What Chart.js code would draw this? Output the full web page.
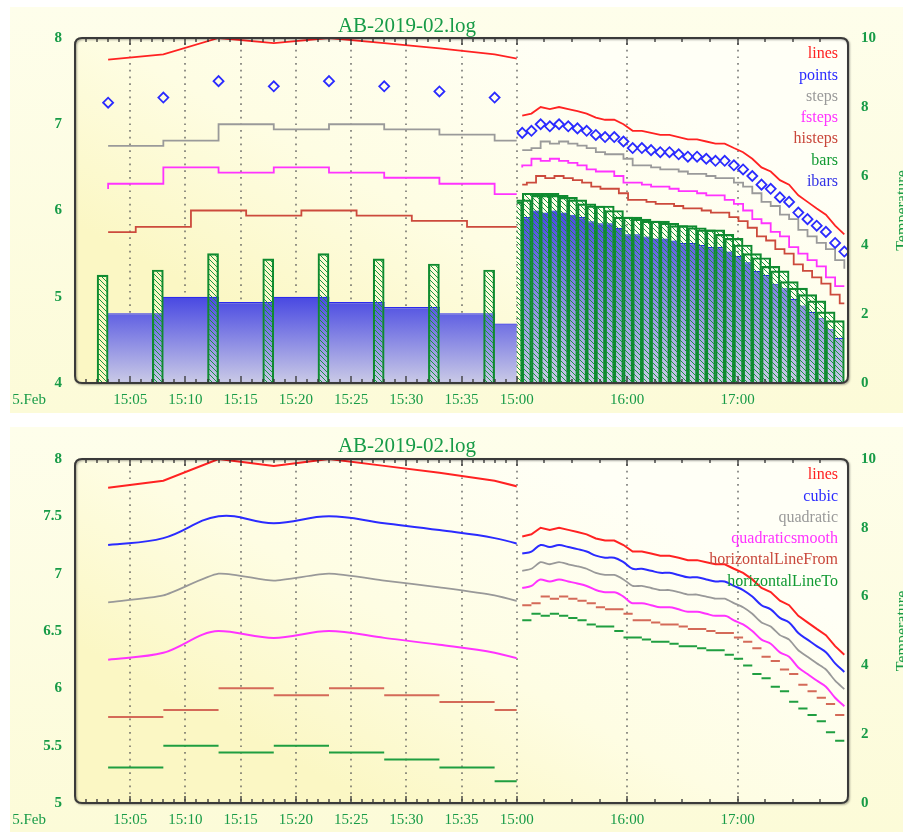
<!DOCTYPE html>
<html>
<head>
<meta charset="utf-8">
<title>AB-2019-02.log</title>
<script src="https://cdn.jsdelivr.net/npm/chart.js@4.4.1/dist/chart.umd.min.js"></script>
<style>
  html, body { margin: 0; padding: 0; background: #ffffff; }
  canvas { display: block; }
</style>
</head>
<body>
<canvas id="topChart" width="903" height="416"></canvas>
<canvas id="bottomChart" width="903" height="416"></canvas>
<script>
// log readings, one every 5 minutes
const times = ['15:03', '15:08', '15:13', '15:18', '15:23', '15:28', '15:33', '15:38',
               '15:43', '15:48', '15:53', '15:58', '16:03', '16:08', '16:13', '16:18',
               '16:23', '16:28', '16:33', '16:38', '16:43', '16:48', '16:53', '16:58',
               '17:03', '17:08', '17:13', '17:18', '17:23', '17:28', '17:33', '17:38',
               '17:43', '17:48', '17:53', '17:58'];
const temps = [5.25, 5.31, 5.50, 5.44, 5.50, 5.44, 5.38, 5.31,
               5.19, 5.13, 5.13, 5.00, 4.81, 4.81, 4.75, 4.69,
               4.69, 4.63, 4.56, 4.56, 4.50, 4.44, 4.44, 4.31,
               4.19, 4.00, 3.75, 3.63, 3.38, 3.25, 2.94, 2.75,
               2.56, 2.38, 2.06, 1.81];

// each style is the same log shifted up or down
const topSeries = ['lines', 'points', 'steps', 'fsteps', 'histeps', 'bars', 'ibars'];
const topOffsets = [2.5, 2, 1.5, 1, 0.5, 0, -0.5];
const bottomSeries = ['lines', 'cubic', 'quadratic', 'quadraticsmooth', 'horizontalLineFrom', 'horizontalLineTo'];
const bottomOffsets = [2.5, 2, 1.5, 1, 0.5, 0];

const leftTickLabels = ['15:05', '15:10', '15:15', '15:20', '15:25', '15:30', '15:35'];
const rightTickLabels = ['15:00', '16:00', '17:00'];
const dateLabel = '5.Feb';
const chartTitle = 'AB-2019-02.log';
const y2Title = 'Temperature';

// layout
const W = 903, H = 416;
const PLOT_LEFT = 75, PLOT_RIGHT = 848;
const SPLIT = 8, X_UNITS = 14;           // left part 15:00-15:40, right part 15:00-18:00
const minPerUnit = { L: 5, R: 30 };
const unitPx = (PLOT_RIGHT - PLOT_LEFT) / X_UNITS;
const GREEN = '#179b47';
const SERIF = "'Liberation Serif', 'DejaVu Serif', serif";

function minutesOf(t) {
    const [h, m] = t.split(':').map(Number);
    return (h - 15) * 60 + m;
}
function segX(seg, t) {
    return seg === 'L' ? minutesOf(t) / 5 : SPLIT + minutesOf(t) / 30;
}

function readings(seg, off) {
    return times.map((t, i) => ({ x: segX(seg, t), y: temps[i] + off }));
}

// box of widthMin minutes that ends at the reading
function boxes(seg, off, widthMin) {
    return times.map((t, i) => ({ x: segX(seg, t) - widthMin / 2 / minPerUnit[seg], y: temps[i] + off }));
}

// filled block from one reading to the next at the next value
function iboxes(seg, off) {
    const out = [];
    for (let i = 0; i < times.length - 1; i++) {
        out.push({ x: (segX(seg, times[i]) + segX(seg, times[i + 1])) / 2, y: temps[i + 1] + off });
    }
    return out;
}

// separate horizontal strokes between readings
function hLines(seg, off, useNext) {
    const out = [];
    for (let i = 0; i < times.length - 1; i++) {
        const v = (useNext ? temps[i + 1] : temps[i]) + off;
        out.push({ x: segX(seg, times[i]), y: v });
        out.push({ x: segX(seg, times[i + 1]), y: v });
        out.push({ x: segX(seg, times[i + 1]), y: null });
    }
    return out;
}

function hatchPattern() {
    const c = document.createElement('canvas');
    c.width = 5; c.height = 5;
    const g = c.getContext('2d');
    g.strokeStyle = '#169a3c';
    g.lineWidth = 1;
    g.beginPath();
    g.moveTo(-1, -1); g.lineTo(6, 6);
    g.moveTo(-3.5, 1.5); g.lineTo(1.5, 6.5);
    g.moveTo(1.5, -3.5); g.lineTo(6.5, 1.5);
    g.stroke();
    return g.createPattern(c, 'repeat');
}

function ibarsFill(context) {
    const chart = context.chart;
    if (!chart.chartArea) return '#4b4be4';
    const ds = chart.data.datasets[context.datasetIndex];
    const scale = chart.scales[ds.yAxisID];
    const top = scale.getPixelForValue(Math.max(...ds.data.map(d => d.y)));
    const g = chart.ctx.createLinearGradient(0, top, 0, chart.chartArea.bottom);
    g.addColorStop(0, '#4848e2');
    g.addColorStop(1, '#cacae6');
    return g;
}

function lineSet(seg, data, extra) {
    return Object.assign({
        type: 'line', seg: seg, data: data,
        yAxisID: seg === 'L' ? 'y' : 'y2',
        borderWidth: 1.8, pointRadius: 0, fill: false, tension: 0, spanGaps: false
    }, extra);
}

function barSet(seg, data, widthMin, extra) {
    return Object.assign({
        type: 'bar', seg: seg, data: data,
        yAxisID: seg === 'L' ? 'y' : 'y2',
        grouped: false,
        barThickness: widthMin / minPerUnit[seg] * unitPx
    }, extra);
}

// clip each half of the broken time axis to its own part of the plot
const segmentClip = {
    id: 'segmentClip',
    beforeDatasetDraw(chart, args) {
        const ds = chart.data.datasets[args.index];
        const x = chart.scales.x, a = chart.chartArea, ctx = chart.ctx;
        const x0 = ds.seg === 'L' ? x.getPixelForValue(0) - 6 : x.getPixelForValue(SPLIT);
        const x1 = ds.seg === 'L' ? x.getPixelForValue(SPLIT) : x.getPixelForValue(X_UNITS) + 6;
        ctx.save();
        ctx.beginPath();
        ctx.rect(x0, a.top - 6, x1 - x0, a.bottom - a.top + 12);
        ctx.clip();
    },
    afterDatasetDraw(chart) {
        chart.ctx.restore();
    }
};

function roundRectPath(ctx, x, y, w, h, r) {
    ctx.beginPath();
    ctx.moveTo(x + r, y);
    ctx.lineTo(x + w - r, y);
    ctx.quadraticCurveTo(x + w, y, x + w, y + r);
    ctx.lineTo(x + w, y + h - r);
    ctx.quadraticCurveTo(x + w, y + h, x + w - r, y + h);
    ctx.lineTo(x + r, y + h);
    ctx.quadraticCurveTo(x, y + h, x, y + h - r);
    ctx.lineTo(x, y + r);
    ctx.quadraticCurveTo(x, y, x + r, y);
    ctx.closePath();
}

const gridPos = leftTickLabels.map(t => segX('L', t)).concat(rightTickLabels.map(t => segX('R', t)));
const gridText = leftTickLabels.concat(rightTickLabels);

const decoration = {
    id: 'decoration',
    beforeDraw(chart) {
        const { ctx, chartArea: a } = chart;
        const o = chart.options.plugins.decoration;
        ctx.save();
        ctx.fillStyle = '#ffffff';
        ctx.fillRect(0, 0, chart.width, chart.height);
        const bg = ctx.createLinearGradient(0, o.bgTop, 0, o.bgBottom);
        bg.addColorStop(0, '#fefeeb');
        bg.addColorStop(1, '#fcfbd8');
        ctx.fillStyle = bg;
        ctx.fillRect(10, o.bgTop, chart.width - 10, o.bgBottom - o.bgTop);
        const w = a.right - a.left;
        const g = ctx.createLinearGradient(a.left + w * 0.62, a.top, a.left + w * 0.38, a.bottom);
        g.addColorStop(0, '#fffff6');
        g.addColorStop(0.55, '#fefde3');
        g.addColorStop(1, '#fbf7c4');
        ctx.fillStyle = g;
        roundRectPath(ctx, a.left, a.top, w, a.bottom - a.top, 7);
        ctx.fill();
        ctx.restore();
    },
    beforeDatasetsDraw(chart) {
        const { ctx, chartArea: a } = chart;
        const x = chart.scales.x;
        ctx.save();
        ctx.strokeStyle = 'rgba(85, 85, 85, 0.75)';
        ctx.lineWidth = 1.7;
        ctx.setLineDash([1.7, 5]);
        gridPos.forEach(v => {
            const px = Math.round(x.getPixelForValue(v));
            ctx.beginPath();
            ctx.moveTo(px, a.top + 5);
            ctx.lineTo(px, a.bottom);
            ctx.stroke();
        });
        ctx.restore();
    },
    afterDatasetsDraw(chart) {
        const { ctx, chartArea: a } = chart;
        const x = chart.scales.x;
        ctx.save();
        // inward tick marks, minutes on the left part, quarter hours on the right
        ctx.strokeStyle = '#333333';
        ctx.lineWidth = 1.3;
        ctx.beginPath();
        const tick = (px, len) => {
            ctx.moveTo(px, a.top); ctx.lineTo(px, a.top + len);
            ctx.moveTo(px, a.bottom); ctx.lineTo(px, a.bottom - len);
        };
        for (let m = 1; m <= 40; m++) {
            tick(Math.round(x.getPixelForValue(m / 5)), m % 5 === 0 ? 7 : 4);
        }
        for (let m = 15; m < 180; m += 15) {
            tick(Math.round(x.getPixelForValue(SPLIT + m / 30)), m % 60 === 0 ? 7 : 4);
        }
        ctx.stroke();
        // rounded frame
        ctx.shadowColor = 'rgba(0, 0, 0, 0.35)';
        ctx.shadowBlur = 2;
        ctx.shadowOffsetX = 1;
        ctx.shadowOffsetY = 1;
        ctx.strokeStyle = '#3a3a3a';
        ctx.lineWidth = 2;
        roundRectPath(ctx, a.left, a.top, a.right - a.left, a.bottom - a.top, 7);
        ctx.stroke();
        ctx.restore();
    },
    afterDraw(chart) {
        const { ctx, chartArea: a } = chart;
        const o = chart.options.plugins.decoration;
        ctx.save();
        ctx.fillStyle = GREEN;
        ctx.font = '21px ' + SERIF;
        ctx.textAlign = 'center';
        ctx.textBaseline = 'alphabetic';
        ctx.fillText(chartTitle, 407, o.titleY);

        ctx.font = '15px ' + SERIF;
        ctx.textBaseline = 'middle';
        ctx.fillText(dateLabel, 29, a.bottom + 17);

        ctx.font = '16px ' + SERIF;
        ctx.textAlign = 'right';
        o.names.forEach((name, i) => {
            ctx.fillStyle = o.colors[i];
            ctx.fillText(name, a.right - 10, a.top + 16 + i * 21.3);
        });

        ctx.fillStyle = GREEN;
        ctx.font = '16px ' + SERIF;
        ctx.translate(907, (a.top + a.bottom) / 2);
        ctx.rotate(-Math.PI / 2);
        ctx.textAlign = 'center';
        ctx.textBaseline = 'alphabetic';
        ctx.fillText(y2Title, 0, 0);
        ctx.restore();
    }
};

const tickText = v => String(Number(v.toFixed(2)));

function makeChart(id, datasets, o) {
    return new Chart(document.getElementById(id), {
        type: 'line',
        data: { datasets: datasets },
        options: {
            responsive: false,
            animation: false,
            devicePixelRatio: 1,
            layout: { padding: { top: o.areaTop, left: 0, right: 0, bottom: 0 } },
            plugins: {
                legend: { display: false },
                tooltip: { enabled: false },
                title: { display: false },
                decoration: o
            },
            scales: {
                x: {
                    type: 'linear', min: 0, max: X_UNITS, offset: false,
                    grid: { display: false, drawTicks: false, offset: false },
                    border: { display: false },
                    afterBuildTicks: s => { s.ticks = gridPos.map(v => ({ value: v })); },
                    afterFit: s => { s.height = H - o.areaBottom; },
                    ticks: {
                        autoSkip: false, maxRotation: 0, minRotation: 0, padding: 8,
                        color: GREEN, font: { family: SERIF, size: 15 },
                        callback: (v, i) => gridText[i]
                    }
                },
                y: {
                    position: 'left', min: o.yMin, max: o.yMax, beginAtZero: false,
                    grid: { display: false, drawTicks: false },
                    border: { display: false },
                    afterFit: s => { s.width = PLOT_LEFT; },
                    ticks: { stepSize: o.yStep, padding: 13, color: GREEN, callback: tickText,
                             font: { family: SERIF, size: 15, weight: 'bold' } }
                },
                y2: {
                    position: 'right', min: 0, max: 10, beginAtZero: false,
                    grid: { display: false, drawTicks: false },
                    border: { display: false },
                    afterFit: s => { s.width = W - PLOT_RIGHT; },
                    ticks: { stepSize: 2, padding: 13, color: GREEN, callback: tickText,
                             font: { family: SERIF, size: 15, weight: 'bold' } }
                }
            }
        },
        plugins: [segmentClip, decoration]
    });
}

// upper panel
const hatch = hatchPattern();
const topColors = ['#ff2222', '#2b2bff', '#9a9a9a', '#ff33ff', '#c9473b', '#119a33', '#3333e6'];
const topSets = [];
['L', 'R'].forEach(s => topSets.push(lineSet(s, readings(s, topOffsets[0]), { borderColor: '#ff2222' })));
['L', 'R'].forEach(s => topSets.push(lineSet(s, readings(s, topOffsets[1]), {
    showLine: false, pointStyle: 'rectRot', pointRadius: 5, pointBorderWidth: 1.8,
    pointBorderColor: '#2b2bff', pointBackgroundColor: 'rgba(0,0,0,0)', borderColor: '#2b2bff'
})));
['L', 'R'].forEach(s => topSets.push(lineSet(s, readings(s, topOffsets[2]), { borderColor: '#9a9a9a', stepped: 'before' })));
['L', 'R'].forEach(s => topSets.push(lineSet(s, readings(s, topOffsets[3]), { borderColor: '#ff33ff', stepped: 'after' })));
['L', 'R'].forEach(s => topSets.push(lineSet(s, readings(s, topOffsets[4]), { borderColor: '#cc4a3c', stepped: 'middle' })));
[['L', 1], ['R', 10]].forEach(([s, w]) => topSets.push(barSet(s, boxes(s, topOffsets[5], w), w, {
    backgroundColor: hatch, borderColor: '#0f8a2f', borderWidth: 1.5
})));
['L', 'R'].forEach(s => topSets.push(barSet(s, iboxes(s, topOffsets[6]), 5.1, {
    backgroundColor: ibarsFill, borderColor: '#2a2aee',
    borderWidth: { top: 1.2, left: 0, right: 0, bottom: 0 }, inflateAmount: 0
})));

makeChart('topChart', topSets, {
    areaTop: 38, areaBottom: 383, yMin: 4, yMax: 8, yStep: 1,
    bgTop: 7, bgBottom: 413, titleY: 32,
    names: topSeries, colors: topColors
});

// lower panel
const bottomColors = ['#ff2222', '#2b2bff', '#9a9a9a', '#ff33ff', '#c9473b', '#119a33'];
const bottomSets = [];
['L', 'R'].forEach(s => bottomSets.push(lineSet(s, readings(s, bottomOffsets[0]), { borderColor: '#ff2222', borderWidth: 2 })));
['L', 'R'].forEach(s => bottomSets.push(lineSet(s, readings(s, bottomOffsets[1]), { borderColor: '#2b2bff', borderWidth: 2, tension: 0.4 })));
['L', 'R'].forEach(s => bottomSets.push(lineSet(s, readings(s, bottomOffsets[2]), { borderColor: '#999999', borderWidth: 1.8, tension: 0.2 })));
['L', 'R'].forEach(s => bottomSets.push(lineSet(s, readings(s, bottomOffsets[3]), { borderColor: '#ff33ff', borderWidth: 2, cubicInterpolationMode: 'monotone' })));
['L', 'R'].forEach(s => bottomSets.push(lineSet(s, hLines(s, bottomOffsets[4], false), { borderColor: '#d46a58', borderWidth: 2 })));
['L', 'R'].forEach(s => bottomSets.push(lineSet(s, hLines(s, bottomOffsets[5], true), { borderColor: '#1f9e40', borderWidth: 2 })));

makeChart('bottomChart', bottomSets, {
    areaTop: 43, areaBottom: 387, yMin: 5, yMax: 8, yStep: 0.5,
    bgTop: 11, bgBottom: 416, titleY: 36,
    names: bottomSeries, colors: bottomColors
});
</script>
</body>
</html>
